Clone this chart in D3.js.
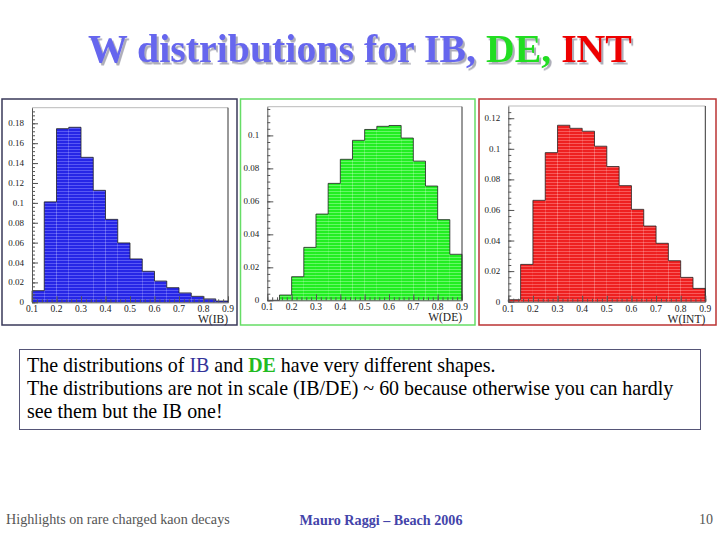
<!DOCTYPE html>
<html>
<head>
<meta charset="utf-8">
<script src="https://d3js.org/d3.v7.min.js"></script>
<style>
  body { margin: 0; background: #fff; }
  svg { display: block; }
  text { font-family: 'Liberation Serif', 'DejaVu Serif', serif; }
</style>
</head>
<body>
<div id="chart"></div>
<script>
// bin edges: 0.10 .. 0.90 in steps of 0.05
const binStarts = [0.10,0.15,0.20,0.25,0.30,0.35,0.40,0.45,0.50,0.55,0.60,0.65,0.70,0.75,0.80,0.85];
const binWidth = 0.05;

const ibValues  = [0.0117,0.101,0.1746,0.176,0.1458,0.1126,0.0834,0.0597,0.0436,0.0312,0.0214,0.0147,0.0094,0.006,0.0034,0.0013];
const deValues  = [0.0,0.0032,0.0143,0.0321,0.0523,0.0709,0.0855,0.097,0.1036,0.1055,0.106,0.0984,0.0844,0.0693,0.0489,0.0279];
const intValues = [0.0013,0.0244,0.0663,0.0975,0.1154,0.1134,0.1115,0.1017,0.0884,0.0759,0.0604,0.0495,0.0382,0.0268,0.0159,0.0087];

const ibTicks  = [0,0.02,0.04,0.06,0.08,0.1,0.12,0.14,0.16,0.18];
const deTicks  = [0,0.02,0.04,0.06,0.08,0.1];
const intTicks = [0,0.02,0.04,0.06,0.08,0.1,0.12];
const xTicks   = [0.1,0.2,0.3,0.4,0.5,0.6,0.7,0.8,0.9];

const W = 720, H = 540;
const svg = d3.select("#chart").append("svg")
  .attr("width", W).attr("height", H);

const defs = svg.append("defs");
function makePattern(id, base, line) {
  const p = defs.append("pattern")
    .attr("id", id).attr("patternUnits", "userSpaceOnUse")
    .attr("width", 6).attr("height", 3);
  p.append("rect").attr("width", 6).attr("height", 3).attr("fill", base);
  p.append("rect").attr("y", 2).attr("width", 6).attr("height", 1).attr("fill", line);
}
makePattern("fillBlue", "#2626e6", "#5858f4");
makePattern("fillGreen", "#22ee22", "#66f866");
makePattern("fillRed", "#ee2020", "#f85a5a");

const shadow = defs.append("filter").attr("id", "shadow")
  .attr("x", "-5%").attr("y", "-20%").attr("width", "110%").attr("height", "150%");
shadow.append("feDropShadow").attr("dx", 2).attr("dy", 2.5)
  .attr("stdDeviation", 0.6).attr("flood-color", "#9a9aa8").attr("flood-opacity", 0.8);

// shrink/grow a text's font size so it spans the wanted width
function fitWidth(sel, target) {
  const fs = parseFloat(sel.style("font-size"));
  const w = sel.node().getComputedTextLength();
  if (w > 0) sel.style("font-size", (fs * target / w).toFixed(2) + "px");
}

// one histogram panel
function createHist(frame, plot, values, yTicks, yMax, fillId, frameColor, xLabel) {
  svg.append("rect")
    .attr("x", frame.x).attr("y", frame.y)
    .attr("width", frame.w).attr("height", frame.h)
    .attr("fill", "#fff").attr("stroke", frameColor).attr("stroke-width", 1.5);

  const x = d3.scaleLinear().domain([0.1, 0.9]).range([plot.x0, plot.x1]);
  const y = d3.scaleLinear().domain([0, yMax]).range([plot.y0, plot.y1]);

  const g = svg.append("g");
  const data = binStarts.map((b, i) => ({ x0: b, x1: b + binWidth, v: values[i] }));

  g.selectAll("rect.bar")
    .data(data)
    .enter().append("rect")
    .attr("class", "bar")
    .attr("x", d => x(d.x0))
    .attr("y", d => y(d.v))
    .attr("width", d => x(d.x1) - x(d.x0))
    .attr("height", d => y(0) - y(d.v))
    .attr("fill", "url(#" + fillId + ")");

  // outline step
  const pts = [[x(0.1), y(0)]];
  data.forEach(d => { pts.push([x(d.x0), y(d.v)]); pts.push([x(d.x1), y(d.v)]); });
  pts.push([x(0.9), y(0)]);
  g.append("path")
    .attr("d", d3.line()(pts))
    .attr("fill", "none").attr("stroke", "#222").attr("stroke-width", 0.8);

  // plot frame: top and right
  g.append("line").attr("x1", plot.x0).attr("x2", plot.x1)
    .attr("y1", plot.y1).attr("y2", plot.y1)
    .attr("stroke", "#bbb").attr("stroke-width", 1);
  g.append("line").attr("x1", plot.x1).attr("x2", plot.x1)
    .attr("y1", plot.y1).attr("y2", plot.y0)
    .attr("stroke", "#333").attr("stroke-width", 1);

  // y axis (ticks inside)
  const yMinor = d3.range(0, yMax, 0.004);
  g.append("g").attr("transform", "translate(" + plot.x0 + ",0)")
    .call(d3.axisRight(y).tickValues(yMinor).tickSize(3).tickFormat("").tickSizeOuter(0))
    .call(a => a.select(".domain").attr("stroke", "#555"))
    .call(a => a.selectAll(".tick line").attr("stroke", "#555"));
  g.append("g").attr("transform", "translate(" + plot.x0 + ",0)")
    .call(d3.axisRight(y).tickValues(yTicks).tickSize(6).tickFormat("").tickSizeOuter(0))
    .call(a => a.select(".domain").remove())
    .call(a => a.selectAll(".tick line").attr("stroke", "#555"));

  g.selectAll("text.ylab")
    .data(yTicks).enter().append("text")
    .attr("class", "ylab")
    .attr("x", plot.x0 - 8).attr("y", d => y(d) + 3)
    .attr("text-anchor", "end")
    .style("font-size", "9px")
    .attr("fill", "#222")
    .text(d => d === 0 ? "0" : String(+d.toFixed(2)));

  // x axis (ticks inside)
  const xMinor = d3.range(0.1, 0.9001, 0.02);
  g.append("g").attr("transform", "translate(0," + plot.y0 + ")")
    .call(d3.axisTop(x).tickValues(xMinor).tickSize(3).tickFormat("").tickSizeOuter(0))
    .call(a => a.select(".domain").attr("stroke", "#555"))
    .call(a => a.selectAll(".tick line").attr("stroke", "#555"));
  g.append("g").attr("transform", "translate(0," + plot.y0 + ")")
    .call(d3.axisTop(x).tickValues(xTicks).tickSize(6).tickFormat("").tickSizeOuter(0))
    .call(a => a.select(".domain").remove())
    .call(a => a.selectAll(".tick line").attr("stroke", "#555"));

  g.selectAll("text.xlab")
    .data(xTicks).enter().append("text")
    .attr("class", "xlab")
    .attr("x", d => x(d)).attr("y", plot.y0 + 10)
    .attr("text-anchor", "middle")
    .style("font-size", "9.5px")
    .attr("fill", "#222")
    .text(d => d.toFixed(1));

  g.append("text")
    .attr("x", plot.x1).attr("y", plot.y0 + 21)
    .attr("text-anchor", "end")
    .style("font-size", "11.5px")
    .attr("fill", "#222")
    .text(xLabel);
}

createHist({x: 2, y: 99, w: 235, h: 226}, {x0: 32, x1: 228, y0: 302.3, y1: 107.7},
  ibValues, ibTicks, 0.1957, "fillBlue", "#3a3a5a", "W(IB)");
createHist({x: 240.5, y: 99, w: 234.5, h: 226}, {x0: 267.3, x1: 462, y0: 300.3, y1: 106.7},
  deValues, deTicks, 0.1174, "fillGreen", "#66dd66", "W(DE)");
createHist({x: 479, y: 99, w: 237, h: 226}, {x0: 508.3, x1: 705.3, y0: 301.7, y1: 106},
  intValues, intTicks, 0.128, "fillRed", "#bb3333", "W(INT)");

// title with drop shadow
const titleParts = [
  {t: "W distributions for IB, ", c: "#6666ee"},
  {t: "DE, ", c: "#22dd22"},
  {t: "INT", c: "#ee0000"}
];
const title = svg.append("text")
  .attr("x", 360).attr("y", 62)
  .attr("text-anchor", "middle")
  .attr("filter", "url(#shadow)")
  .style("font-weight", "bold").style("font-size", "34px");
titleParts.forEach(p => title.append("tspan").attr("fill", p.c).text(p.t));
fitWidth(title, 544);

// text box
svg.append("rect")
  .attr("x", 19.5).attr("y", 349.5).attr("width", 681).attr("height", 80)
  .attr("fill", "#fff").attr("stroke", "#555577").attr("stroke-width", 1);

const lines = [
  [{t: "The distributions of "}, {t: "IB", c: "#333399"}, {t: " and "}, {t: "DE", c: "#22bb22", b: true}, {t: " have very different shapes."}],
  [{t: "The distributions are not in scale (IB/DE) ~ 60 because otherwise you can hardly"}],
  [{t: "see them but the IB one!"}]
];
const boxTexts = lines.map((ln, i) => {
  const t = svg.append("text")
    .attr("x", 27).attr("y", 372 + i * 23)
    .style("font-size", "19px")
    .attr("fill", "#000");
  ln.forEach(p => {
    const s = t.append("tspan").text(p.t);
    if (p.c) s.attr("fill", p.c);
    if (p.b) s.style("font-weight", "bold");
  });
  return t;
});
// size from the longest line, apply to all
{
  const probe = boxTexts[1];
  fitWidth(probe, 647);
  const fs = probe.style("font-size");
  boxTexts.forEach(t => t.style("font-size", fs));
}

// footer
const f1 = svg.append("text").attr("x", 6).attr("y", 524)
  .style("font-size", "14px")
  .attr("fill", "#555").text("Highlights on rare charged kaon decays");
fitWidth(f1, 224);
const f2 = svg.append("text").attr("x", 381).attr("y", 525).attr("text-anchor", "middle")
  .style("font-size", "14px")
  .style("font-weight", "bold")
  .attr("fill", "#4444aa").text("Mauro Raggi – Beach 2006");
fitWidth(f2, 163);
svg.append("text").attr("x", 713).attr("y", 524).attr("text-anchor", "end")
  .style("font-size", "14px")
  .attr("fill", "#555").text("10");
</script>
</body>
</html>
